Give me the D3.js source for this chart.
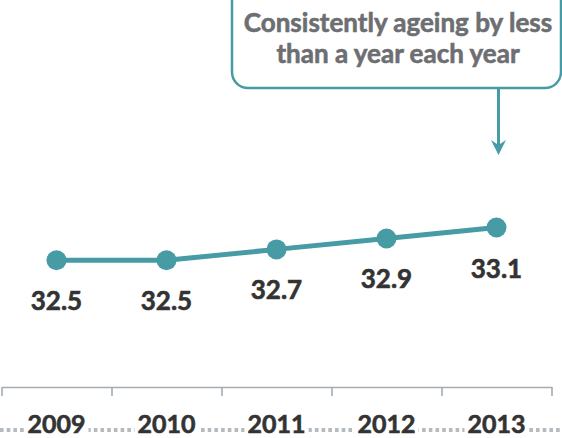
<!DOCTYPE html>
<html>
<head>
<meta charset="utf-8">
<script src="https://cdn.jsdelivr.net/npm/d3@7"></script>
<style>
  html, body { margin: 0; padding: 0; background: #ffffff; }
  svg { display: block; }
  text { font-family: Lato, "Open Sans", sans-serif; font-weight: 700; stroke-width: 0.6px; }
</style>
</head>
<body>
<svg id="chart" width="562" height="438"></svg>
<script>
// Median age by year
const years = ["2009", "2010", "2011", "2012", "2013"];
const medianAge = [32.5, 32.5, 32.7, 32.9, 33.1];
const noteLines = ["Consistently ageing by less", "than a year each year"];

const W = 562, H = 438;
const teal = "#469ba4";
const svg = d3.select("#chart");

// Scales
const x = d3.scalePoint().domain(years).range([1.5, 551.5]).padding(0.5);
const edge = d3.scaleLinear().domain([0, years.length]).range([1.5, 551.5]);
const y = d3.scaleLinear().domain([32.0, 33.5]).range([287.6, 205.7]);

const data = years.map((yr, i) => ({ year: yr, value: medianAge[i] }));

// Category axis: baseline with ticks at the category boundaries
const axisY = 387;
const axis = d3.axisBottom(edge)
  .tickValues(d3.range(years.length + 1))
  .tickSize(9)
  .tickSizeOuter(0)
  .tickFormat("");
const gAxis = svg.append("g").attr("transform", `translate(0,${axisY})`).call(axis);
gAxis.select(".domain").attr("stroke", "#a3adb3").attr("stroke-width", 1.6);
gAxis.selectAll(".tick line").attr("stroke", "#a3adb3").attr("stroke-width", 1.6);

// Dotted rule under the year labels
const ruleY = 430;
svg.append("line")
  .attr("x1", 0).attr("x2", W).attr("y1", ruleY).attr("y2", ruleY)
  .attr("stroke", "#b5babe").attr("stroke-width", 4)
  .attr("stroke-dasharray", "3.6 3.1");

// Year labels with a white backing so the dots stop at the text
const yearG = svg.append("g");
const yearText = yearG.selectAll("text").data(years).join("text")
  .attr("x", d => x(d)).attr("y", 433)
  .attr("text-anchor", "middle")
  .attr("font-size", 25)
  .attr("fill", "#333333").attr("stroke", "#333333")
  .text(d => d);
yearText.each(function () {
  const b = this.getBBox();
  yearG.insert("rect", "text")
    .attr("x", b.x - 3).attr("y", b.y).attr("width", b.width + 6).attr("height", b.height + 6)
    .attr("fill", "#ffffff");
});

// Line and markers
const line = d3.line().x(d => x(d.year)).y(d => y(d.value));
svg.append("path").datum(data)
  .attr("d", line)
  .attr("fill", "none")
  .attr("stroke", teal)
  .attr("stroke-width", 5)
  .attr("stroke-linejoin", "round");

svg.selectAll("circle.pt").data(data).join("circle")
  .attr("class", "pt")
  .attr("cx", d => x(d.year)).attr("cy", d => y(d.value))
  .attr("r", 10)
  .attr("fill", teal);

// Value labels beneath each marker
svg.selectAll("text.val").data(data).join("text")
  .attr("class", "val")
  .attr("x", d => x(d.year)).attr("y", d => y(d.value) + 50)
  .attr("text-anchor", "middle")
  .attr("font-size", 26)
  .attr("fill", "#333333").attr("stroke", "#333333")
  .text(d => d3.format(".1f")(d.value));

// Callout box with arrow pointing to the last year
const box = { x: 232, y: -20, w: 329, h: 108 };
svg.append("rect")
  .attr("x", box.x).attr("y", box.y).attr("width", box.w).attr("height", box.h)
  .attr("rx", 16).attr("ry", 16)
  .attr("fill", "#ffffff")
  .attr("stroke", teal).attr("stroke-width", 2.5);

svg.append("g").selectAll("text").data(noteLines).join("text")
  .attr("x", 398).attr("y", (d, i) => 32 + i * 31)
  .attr("text-anchor", "middle")
  .attr("font-size", 26)
  .attr("fill", "#6d6e71").attr("stroke", "#6d6e71")
  .text(d => d);

const ax = x("2013") + 2;
const arrowTop = box.y + box.h, arrowTip = 155;
svg.append("line")
  .attr("x1", ax).attr("x2", ax).attr("y1", arrowTop).attr("y2", arrowTip - 8)
  .attr("stroke", teal).attr("stroke-width", 3);
svg.append("path")
  .attr("d", `M${ax},${arrowTip} L${ax - 7.5},${arrowTip - 15} L${ax},${arrowTip - 10} L${ax + 7.5},${arrowTip - 15} Z`)
  .attr("fill", teal);
</script>
</body>
</html>
